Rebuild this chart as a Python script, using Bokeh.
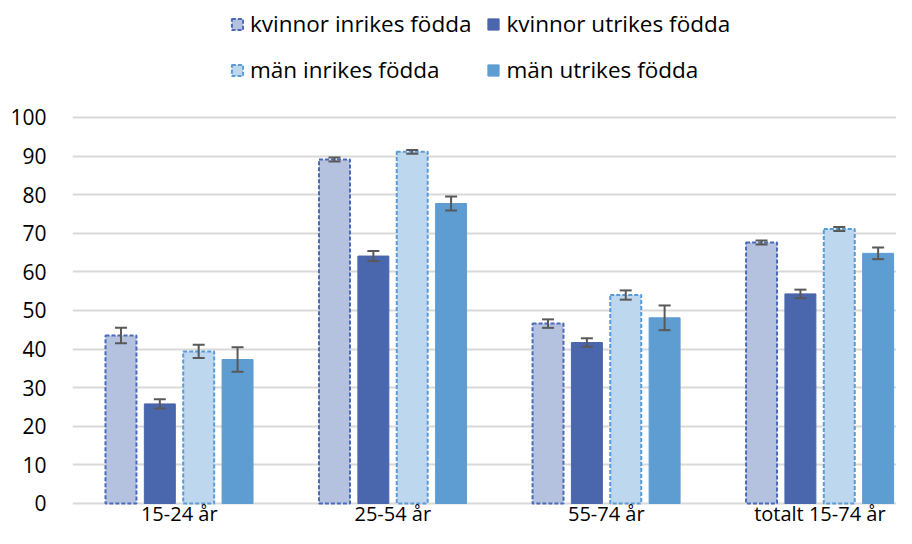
from bokeh.plotting import figure
from bokeh.models import ColumnDataSource, Range1d, Legend, LegendItem, Whisker, FixedTicker, TeeHead, LabelSet
from bokeh.core.properties import value
from bokeh.embed import file_html
from bokeh.resources import INLINE

categories = ["15-24 år", "25-54 år", "55-74 år", "totalt 15-74 år"]
series = ["kvinnor inrikes födda", "kvinnor utrikes födda", "män inrikes födda", "män utrikes födda"]
y_ticks = [0, 10, 20, 30, 40, 50, 60, 70, 80, 90, 100]

kvinnor_inrikes = [43.5, 89.1, 46.6, 67.6]
kvinnor_inrikes_err = [2.0, 0.5, 1.1, 0.5]
kvinnor_utrikes = [25.8, 64.1, 41.7, 54.3]
kvinnor_utrikes_err = [1.2, 1.3, 1.1, 1.1]
man_inrikes = [39.4, 91.1, 54.0, 71.1]
man_inrikes_err = [1.7, 0.5, 1.2, 0.5]
man_utrikes = [37.3, 77.7, 48.1, 64.8]
man_utrikes_err = [3.2, 1.8, 3.2, 1.5]

values = [kvinnor_inrikes, kvinnor_utrikes, man_inrikes, man_utrikes]
errors = [kvinnor_inrikes_err, kvinnor_utrikes_err, man_inrikes_err, man_utrikes_err]

fills = ["#B4C2E0", "#4A66AC", "#BDD7EE", "#5E9DD2"]
lines = ["#4A6AB8", "#4A66AC", "#5B9BD5", "#5E9DD2"]
dashes = ["4 2", "solid", "4 2", "solid"]
offsets = [-0.273, -0.091, 0.091, 0.273]
bar_w = 0.145

FONT = "Open Sans"

# y range extends above 100 (room for the legend) and slightly below 0 (room for category labels)
p = figure(width=896, height=528, x_range=Range1d(-0.5, 3.359), y_range=Range1d(-6.477, 130.3),
           output_backend="svg", toolbar_location=None,
           min_border_left=72, min_border_right=0, min_border_top=0, min_border_bottom=0)
p.outline_line_color = None
p.background_fill_color = "white"
p.border_fill_color = "white"

idx = list(range(len(categories)))
items = []
for k in range(4):
    xs = [i + offsets[k] for i in idx]
    src = ColumnDataSource(dict(x=xs, top=values[k],
                                upper=[v + e for v, e in zip(values[k], errors[k])],
                                lower=[v - e for v, e in zip(values[k], errors[k])]))
    r = p.vbar(x="x", top="top", bottom=0, width=bar_w, source=src,
               fill_color=fills[k], line_color=lines[k],
               line_width=2 if dashes[k] != "solid" else 1,
               line_dash=dashes[k])
    w = Whisker(base="x", upper="upper", lower="lower", source=src, level="overlay",
                line_color="#595959", line_width=2,
                upper_head=TeeHead(size=12, line_color="#595959", line_width=2),
                lower_head=TeeHead(size=12, line_color="#595959", line_width=2))
    p.add_layout(w)
    items.append(LegendItem(label=series[k], renderers=[r]))

# category labels under each group
cat_src = ColumnDataSource(dict(x=idx, y=[-2.6] * len(idx), text=categories))
cat_labels = LabelSet(x="x", y="y", text="text", source=cat_src, text_align="center",
                      text_baseline="middle", text_font=value(FONT), text_font_size=value("20px"),
                      text_color=value("#000000"))
p.add_layout(cat_labels)
p.xaxis.visible = False

p.yaxis.ticker = FixedTicker(ticks=y_ticks)
ax = p.yaxis[0]
ax.axis_line_color = None
ax.major_tick_line_color = None
ax.minor_tick_line_color = None
ax.major_label_text_font = FONT
ax.major_label_text_font_size = "21px"
ax.major_label_text_color = "#000000"
ax.major_label_standoff = 20
p.xgrid.grid_line_color = None
p.ygrid.grid_line_color = "#D9D9D9"
p.ygrid.grid_line_width = 2

# column-major fill: column 1 = kvinnor/män inrikes, column 2 = kvinnor/män utrikes
ordered = [items[0], items[2], items[1], items[3]]
legend = Legend(items=ordered, ncols=2, location=(158, 443),
                label_text_font=FONT, label_text_font_size="22.5px", label_text_color="#000000",
                glyph_width=14, glyph_height=14, label_standoff=6,
                spacing=15, padding=0, margin=0,
                border_line_color=None, background_fill_alpha=0)
p.add_layout(legend, "center")

open("out.html", "w").write(file_html(p, INLINE))
